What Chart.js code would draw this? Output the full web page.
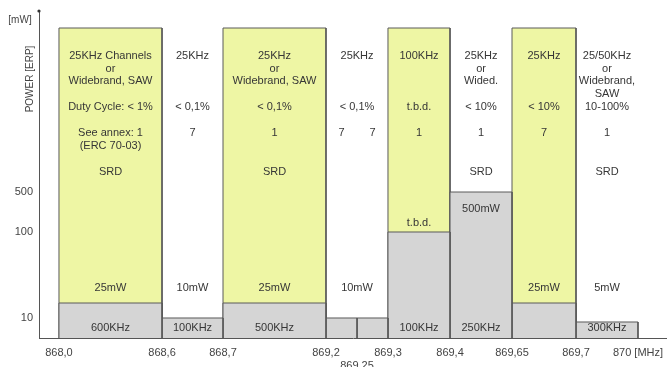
<!DOCTYPE html>
<html><head><meta charset="utf-8">
<script src="https://cdn.jsdelivr.net/npm/chart.js@4.4.1/dist/chart.umd.min.js"></script>
<style>html,body{margin:0;padding:0;background:#fff;}#wrap{width:667px;height:367px;position:relative;}</style>
</head><body><div id="wrap"><canvas id="c"></canvas></div>
<script>
// ---------------- data ----------------
const bandStart   = [868.0, 868.6, 868.7, 869.2, 869.25, 869.3, 869.4, 869.65, 869.7];
const bandEnd     = [868.6, 868.7, 869.2, 869.25, 869.3, 869.4, 869.65, 869.7, 870.0];
const bandPowerMw = [25, 10, 25, 10, 10, 100, 500, 25, 5];
const srdBandIndex = [0, 2, 5, 7];
const bandAnnex = [['See annex: 1', '(ERC 70-03)'], ['7'], ['1'], ['7'], ['7'], ['1'], ['1'], ['7'], ['1']];
const columnBands = [[0], [1], [2], [3, 4], [5], [6], [7], [8]];
const columnChannel = [
  ['25KHz Channels', 'or', 'Widebrand, SAW'], ['25KHz'], ['25KHz', 'or', 'Widebrand, SAW'], ['25KHz'],
  ['100KHz'], ['25KHz', 'or', 'Wided.'], ['25KHz'], ['25/50KHz', 'or', 'Widebrand,', 'SAW']
];
const columnDuty  = ['Duty Cycle: < 1%', '< 0,1%', '< 0,1%', '< 0,1%', 't.b.d.', '< 10%', '< 10%', '10-100%'];
const columnUse   = ['SRD', '', 'SRD', '', '', 'SRD', '', 'SRD'];
const columnPower = ['25mW', '10mW', '25mW', '10mW', 't.b.d.', '500mW', '25mW', '5mW'];
const columnWidth = ['600KHz', '100KHz', '500KHz', '', '100KHz', '250KHz', '', '300KHz'];
const freqTicks = [868.0, 868.6, 868.7, 869.2, 869.25, 869.3, 869.4, 869.65, 869.7, 870.0];
const freqTickLabels = ['868,0', '868,6', '868,7', '869,2', ['', '869,25'], '869,3', '869,4', '869,65', '869,7', '870 [MHz]'];
const powerTicks = [10, 100, 500];
const srdCeilingMw = 5000;

// ---------------- schematic (piecewise) scale ----------------
const knotsByAxis = {
  x: [[867.88, 0], [868.0, 0.0318], [868.6, 0.1959], [868.7, 0.2930], [869.2, 0.4570], [869.25, 0.5064],
      [869.3, 0.5557], [869.4, 0.6545], [869.65, 0.7532], [869.7, 0.8551], [870.0, 0.9538], [870.14, 1]],
  y: [[0, 0], [5, 0.0488], [10, 0.0610], [25, 0.1067], [100, 0.3232], [500, 0.4451], [5000, 0.9451], [10000, 1]]
};
function interp(knots, v) {
  let i = 1;
  while (i < knots.length - 1 && v > knots[i][0]) i++;
  const a = knots[i - 1], b = knots[i];
  return a[1] + (v - a[0]) * (b[1] - a[1]) / (b[0] - a[0]);
}
class SchematicScale extends Chart.LinearScale {
  getPixelForValue(value) {
    const f = interp(knotsByAxis[this.axis], value);
    return this.isHorizontal() ? this.left + f * this.width : this.bottom - f * this.height;
  }
  getValueForPixel(pixel) {
    const f = this.isHorizontal() ? (pixel - this.left) / this.width : (this.bottom - pixel) / this.height;
    return interp(knotsByAxis[this.axis].map(k => [k[1], k[0]]), f);
  }
}
SchematicScale.id = 'schematic';
SchematicScale.defaults = Chart.LinearScale.defaults;
Chart.register(SchematicScale);

// ---------------- datasets ----------------
const YELLOW = '#eef6a4', GRAY = '#d5d5d5', EDGE = '#5a5a5a';
function rect(a, b, p) { return [{x: a, y: 0}, {x: a, y: p}, {x: b, y: p}, {x: b, y: 0}]; }
const common = {fill: 'origin', borderWidth: 1, borderColor: EDGE, pointRadius: 0, tension: 0, borderJoinStyle: 'miter'};
const datasets = [];
srdBandIndex.forEach(i => datasets.push(Object.assign({}, common, {
  data: rect(bandStart[i], bandEnd[i], srdCeilingMw), backgroundColor: YELLOW, order: 2})));
bandStart.forEach((s, i) => datasets.push(Object.assign({}, common, {
  data: rect(s, bandEnd[i], bandPowerMw[i]), backgroundColor: GRAY, order: 1})));

const FONT = '"Liberation Sans", Arial, sans-serif';
const textPlugin = {
  id: 'bandTexts',
  afterDatasetsDraw(chart) {
    const {ctx} = chart; const x = chart.scales.x, y = chart.scales.y;
    ctx.save();
    ctx.font = '11px ' + FONT; ctx.fillStyle = '#363636';
    ctx.textAlign = 'center'; ctx.textBaseline = 'middle';
    const placement = ['row', 'row', 'row', 'row', 'above', 'inside', 'row', 'row'];
    columnBands.forEach((bands, c) => {
      const s = bandStart[bands[0]], e = bandEnd[bands[bands.length - 1]];
      const cx = x.getPixelForValue((s + e) / 2);
      columnChannel[c].forEach((t, k) => ctx.fillText(t, cx, 56 + k * 12.7));
      ctx.fillText(columnDuty[c], cx, 107);
      ctx.fillText(columnUse[c], cx, 172);
      ctx.fillText(columnWidth[c], cx, 328);
      const top = y.getPixelForValue(bandPowerMw[bands[0]]);
      let py = 288;
      if (placement[c] === 'above') py = top - 9;
      if (placement[c] === 'inside') py = top + 17;
      ctx.fillText(columnPower[c], cx, py);
    });
    bandStart.forEach((s, i) => {
      const cx = x.getPixelForValue((s + bandEnd[i]) / 2);
      bandAnnex[i].forEach((t, k) => ctx.fillText(t, cx, 133 + k * 12.5));
    });
    // axis titles
    ctx.fillStyle = '#444'; ctx.font = '10px ' + FONT;
    ctx.fillText('[mW]', 20, 20);
    ctx.save(); ctx.translate(30, 79); ctx.rotate(-Math.PI / 2); ctx.fillText('POWER [ERP]', 0, 0); ctx.restore();
    ctx.fillStyle = '#333';
    ctx.beginPath(); ctx.arc(x.left, y.top + 1, 1.6, 0, Math.PI * 2); ctx.fill();
    ctx.restore();
  }
};

new Chart(document.getElementById('c'), {
  type: 'line',
  data: {datasets},
  plugins: [textPlugin],
  options: {
    responsive: true, maintainAspectRatio: false, animation: false, events: [],
    layout: {padding: {top: 10, right: 0, left: 0, bottom: 0}},
    plugins: {legend: {display: false}, tooltip: {enabled: false}},
    scales: {
      x: {
        type: 'schematic', min: 867.88, max: 870.14,
        grid: {display: false, drawTicks: false},
        border: {display: true, color: '#555', width: 1},
        afterBuildTicks: s => { s.ticks = freqTicks.map(v => ({value: v})); },
        afterFit: s => { s.height = 29; s.paddingLeft = 0; s.paddingRight = 0; s.paddingTop = 0; s.paddingBottom = 0; },
        ticks: {autoSkip: false, maxRotation: 0, padding: 8, color: '#444', font: {family: FONT, size: 11},
          callback: (v, i) => freqTickLabels[i]}
      },
      y: {
        type: 'schematic', min: 0, max: 10000,
        grid: {display: false, drawTicks: false},
        border: {display: true, color: '#555', width: 1},
        afterBuildTicks: s => { s.ticks = powerTicks.map(v => ({value: v})); },
        afterFit: s => { s.width = 39; s.paddingLeft = 0; s.paddingRight = 0; s.paddingTop = 0; s.paddingBottom = 0; },
        ticks: {padding: 6, color: '#444', font: {family: FONT, size: 11}, callback: v => String(v)}
      }
    }
  }
});
</script></body></html>
